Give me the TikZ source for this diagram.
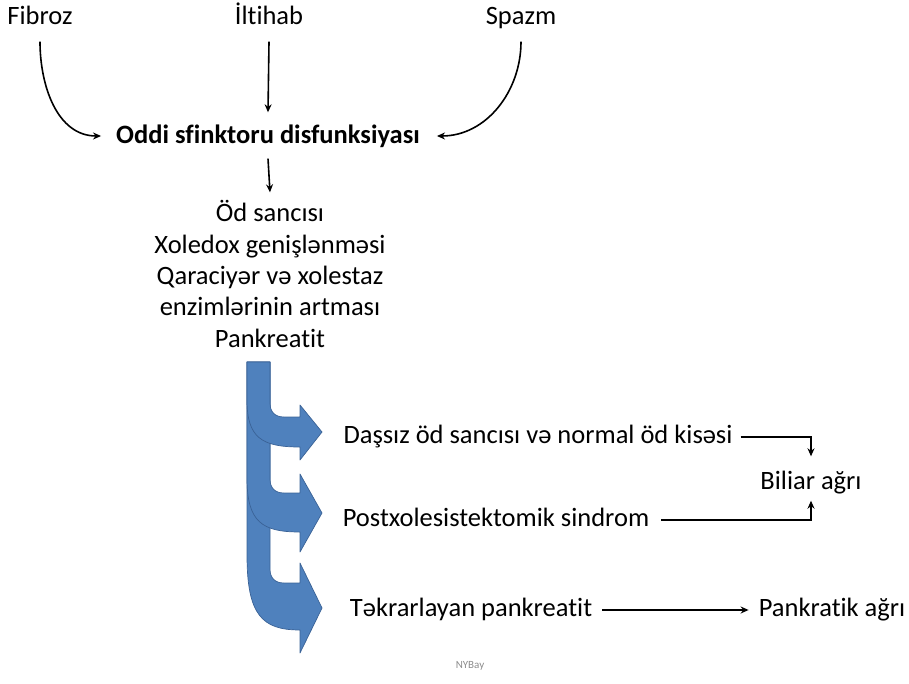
\documentclass[tikz,border=0pt]{standalone}
\usepackage{fontspec}
\setmainfont[Ligatures=NoCommon]{Carlito}
\usetikzlibrary{arrows.meta,calc}
\definecolor{ablue}{HTML}{4F81BD}
\definecolor{aedge}{HTML}{3A6296}
\definecolor{wm}{HTML}{8C8C8C}
\begin{document}
\begin{tikzpicture}[x=1pt,y=-1pt,
  lbl/.style={inner sep=0pt, font=\fontsize{26.5}{31.5}\selectfont, text height=18pt, text depth=5pt, anchor=center},
  conn/.style={line width=1.6pt, -{Stealth[length=8pt,width=7pt]}},
  bigarrow/.style={fill=ablue, draw=aedge, line width=0.7pt, line join=round}]
\useasboundingbox (0,0) rectangle (909,684);

% top causes
\node[lbl] (fib) at (40,18) {Fibroz};
\node[lbl] (ilt) at (269,18) {İltihab};
\node[lbl] (spa) at (521,18) {Spazm};
\node[lbl, font=\fontsize{26.5}{31.5}\selectfont\bfseries] (oddi) at (268,137) {Oddi sfinktoru disfunksiyası};

\draw[conn] ($(fib.south)+(0,12)$) to[out=-90,in=180] ($(oddi.west)+(-15,-1)$);
\draw[conn] ($(ilt.south)+(0,12)$) -- ($(oddi.north)+(0,-13)$);
\draw[conn] ($(spa.south)+(0,12)$) to[out=-90,in=0] ($(oddi.east)+(17,-1)$);

% consequences
\node[lbl] (l1) at (270,215) {Öd sancısı};
\node[lbl] (l2) at (270,247) {Xoledox genişlənməsi};
\node[lbl] (l3) at (270,278) {Qaraciyər və xolestaz};
\node[lbl] (l4) at (270,309) {enzimlərinin artması};
\node[lbl] (l5) at (270,341) {Pankreatit};

\draw[conn] ($(oddi.south)+(0,10)$) -- ($(l1.north)+(0,-11)$);

% curved block arrows
\path[bigarrow] (247,362) -- (270,362) -- (270,569)
  .. controls (270,578) and (275,583) .. (284,583) -- (300,583) -- (300,563)
  -- (322,608) -- (300,653) -- (300,630)
  .. controls (262,630) and (247,615) .. (247,555) -- cycle;
\path[bigarrow] (247,362) -- (270,362) -- (270,479)
  .. controls (270,488) and (275,493) .. (284,493) -- (300,493) -- (300,474)
  -- (322,513) -- (300,552) -- (300,532)
  .. controls (262,532) and (247,522) .. (247,478) -- cycle;
\path[bigarrow] (247,362) -- (270,362) -- (270,403)
  .. controls (270,412) and (275,417) .. (284,417) -- (300,417) -- (300,405)
  -- (322,432) -- (300,460) -- (300,447)
  .. controls (262,447) and (247,438) .. (247,400) -- cycle;

% outcomes
\node[lbl] (das) at (538,437) {Daşsız öd sancısı və normal öd kisəsi};
\node[lbl] (post) at (496,520) {Postxolesistektomik sindrom};
\node[lbl] (tek) at (471,610) {Təkrarlayan pankreatit};
\node[lbl] (bil) at (811,483) {Biliar ağrı};
\node[lbl] (pan) at (832,610) {Pankratik ağrı};

\draw[conn] ($(das.east)+(8,0)$) -| ($(bil.north)+(0,-15)$);
\draw[conn] ($(post.east)+(12,0)$) -| ($(bil.south)+(0,6)$);
\draw[conn] ($(tek.east)+(10,0)$) -- ($(pan.west)+(-10,0)$);

\node[inner sep=0pt, font=\fontsize{11}{13}\selectfont, text=wm] (wmk) at (470,666) {NYBay};
\end{tikzpicture}
\end{document}
